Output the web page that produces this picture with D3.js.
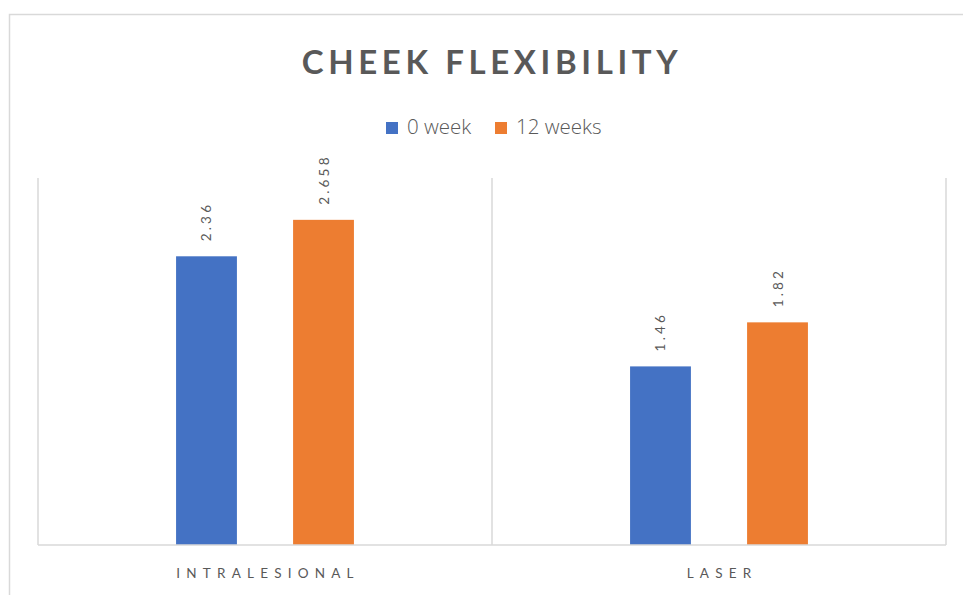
<!DOCTYPE html>
<html>
<head>
<meta charset="utf-8">
<script src="https://cdn.jsdelivr.net/npm/d3@7"></script>
<style>
  html, body { margin: 0; padding: 0; background: #ffffff; }
  svg { display: block; }
</style>
</head>
<body>
<svg id="chart" width="963" height="595"></svg>
<script>
// Chart data
const categories = ["INTRALESIONAL", "LASER"];
const seriesNames = ["0 week", "12 weeks"];
const week0 = [2.36, 1.46];
const week12 = [2.658, 1.82];
const yMax = 3;

const colors = ["#4472c4", "#ed7d31"];
const textColor = "#595959";
const gridColor = "#d9d9d9";
const font = "Lato, 'Open Sans', sans-serif";
const legendFont = "'Open Sans', Lato, sans-serif";

const svg = d3.select("#chart");

// Chart frame (only top and left edges fall inside the view)
svg.append("rect")
  .attr("x", 9.5).attr("y", 14.5)
  .attr("width", 1000).attr("height", 700)
  .attr("fill", "#fff")
  .attr("stroke", gridColor).attr("stroke-width", 1.5);

const plot = { left: 38, right: 946, top: 178, bottom: 545 };

const x0 = d3.scaleBand()
  .domain(categories)
  .range([plot.left, plot.right])
  .paddingInner(0).paddingOuter(0);

const x1 = d3.scaleBand()
  .domain(seriesNames)
  .range([0, x0.bandwidth()])
  .paddingInner(0.48)
  .paddingOuter(1.18);

const y = d3.scaleLinear().domain([0, yMax]).range([plot.bottom, plot.top]);

// Category separators (vertical gridlines at band edges)
const edges = categories.map(c => x0(c)).concat([plot.right]);
svg.append("g").selectAll("line")
  .data(edges)
  .join("line")
  .attr("x1", d => d).attr("x2", d => d)
  .attr("y1", plot.top).attr("y2", plot.bottom)
  .attr("stroke", gridColor).attr("stroke-width", 1.5);

// Bars
const rows = categories.map((c, i) => ({ cat: c, vals: [week0[i], week12[i]] }));

const groups = svg.append("g").selectAll("g")
  .data(rows)
  .join("g")
  .attr("transform", d => `translate(${x0(d.cat)},0)`);

groups.selectAll("rect")
  .data(d => d.vals.map((v, j) => ({ name: seriesNames[j], v, j })))
  .join("rect")
  .attr("x", d => x1(d.name))
  .attr("y", d => y(d.v))
  .attr("width", x1.bandwidth())
  .attr("height", d => y(0) - y(d.v))
  .attr("fill", d => colors[d.j]);

// Rotated value labels
groups.selectAll("text")
  .data(d => d.vals.map((v, j) => ({ name: seriesNames[j], v, j })))
  .join("text")
  .attr("transform", d => `translate(${x1(d.name) + x1.bandwidth() / 2 + 5},${y(d.v) - 15}) rotate(-90)`)
  .attr("text-anchor", "start")
  .attr("font-family", font)
  .attr("font-size", 13.5)
  .attr("letter-spacing", 3.2)
  .attr("fill", textColor)
  .text(d => String(d.v));

// Baseline axis
svg.append("line")
  .attr("x1", plot.left).attr("x2", plot.right)
  .attr("y1", plot.bottom).attr("y2", plot.bottom)
  .attr("stroke", gridColor).attr("stroke-width", 1.5);

// Category axis labels
const xAxis = d3.axisBottom(x0).tickSize(0).tickPadding(0);
const gx = svg.append("g")
  .attr("transform", `translate(0,${plot.bottom})`)
  .call(xAxis);
gx.select(".domain").remove();
gx.selectAll("text")
  .attr("y", 33)
  .attr("dy", 0)
  .attr("dx", 3)
  .attr("font-family", font)
  .attr("font-size", 13.5)
  .attr("letter-spacing", 6.2)
  .attr("fill", textColor);

// Title
svg.append("text")
  .attr("x", 492).attr("y", 74)
  .attr("text-anchor", "middle")
  .attr("font-family", font)
  .attr("font-weight", "bold")
  .attr("font-size", 33)
  .attr("letter-spacing", 4.6)
  .attr("fill", textColor)
  .text("CHEEK FLEXIBILITY");

// Legend
const legendItems = [
  { name: seriesNames[0], x: 386, color: colors[0] },
  { name: seriesNames[1], x: 495, color: colors[1] }
];
const lg = svg.append("g").selectAll("g")
  .data(legendItems)
  .join("g")
  .attr("transform", d => `translate(${d.x},122)`);
lg.append("rect")
  .attr("width", 12).attr("height", 12)
  .attr("fill", d => d.color);
lg.append("text")
  .attr("x", 21).attr("y", 11.5)
  .attr("font-family", legendFont)
  .attr("font-weight", 300)
  .attr("font-size", 20.5)
  .attr("fill", textColor)
  .text(d => d.name);
</script>
</body>
</html>
